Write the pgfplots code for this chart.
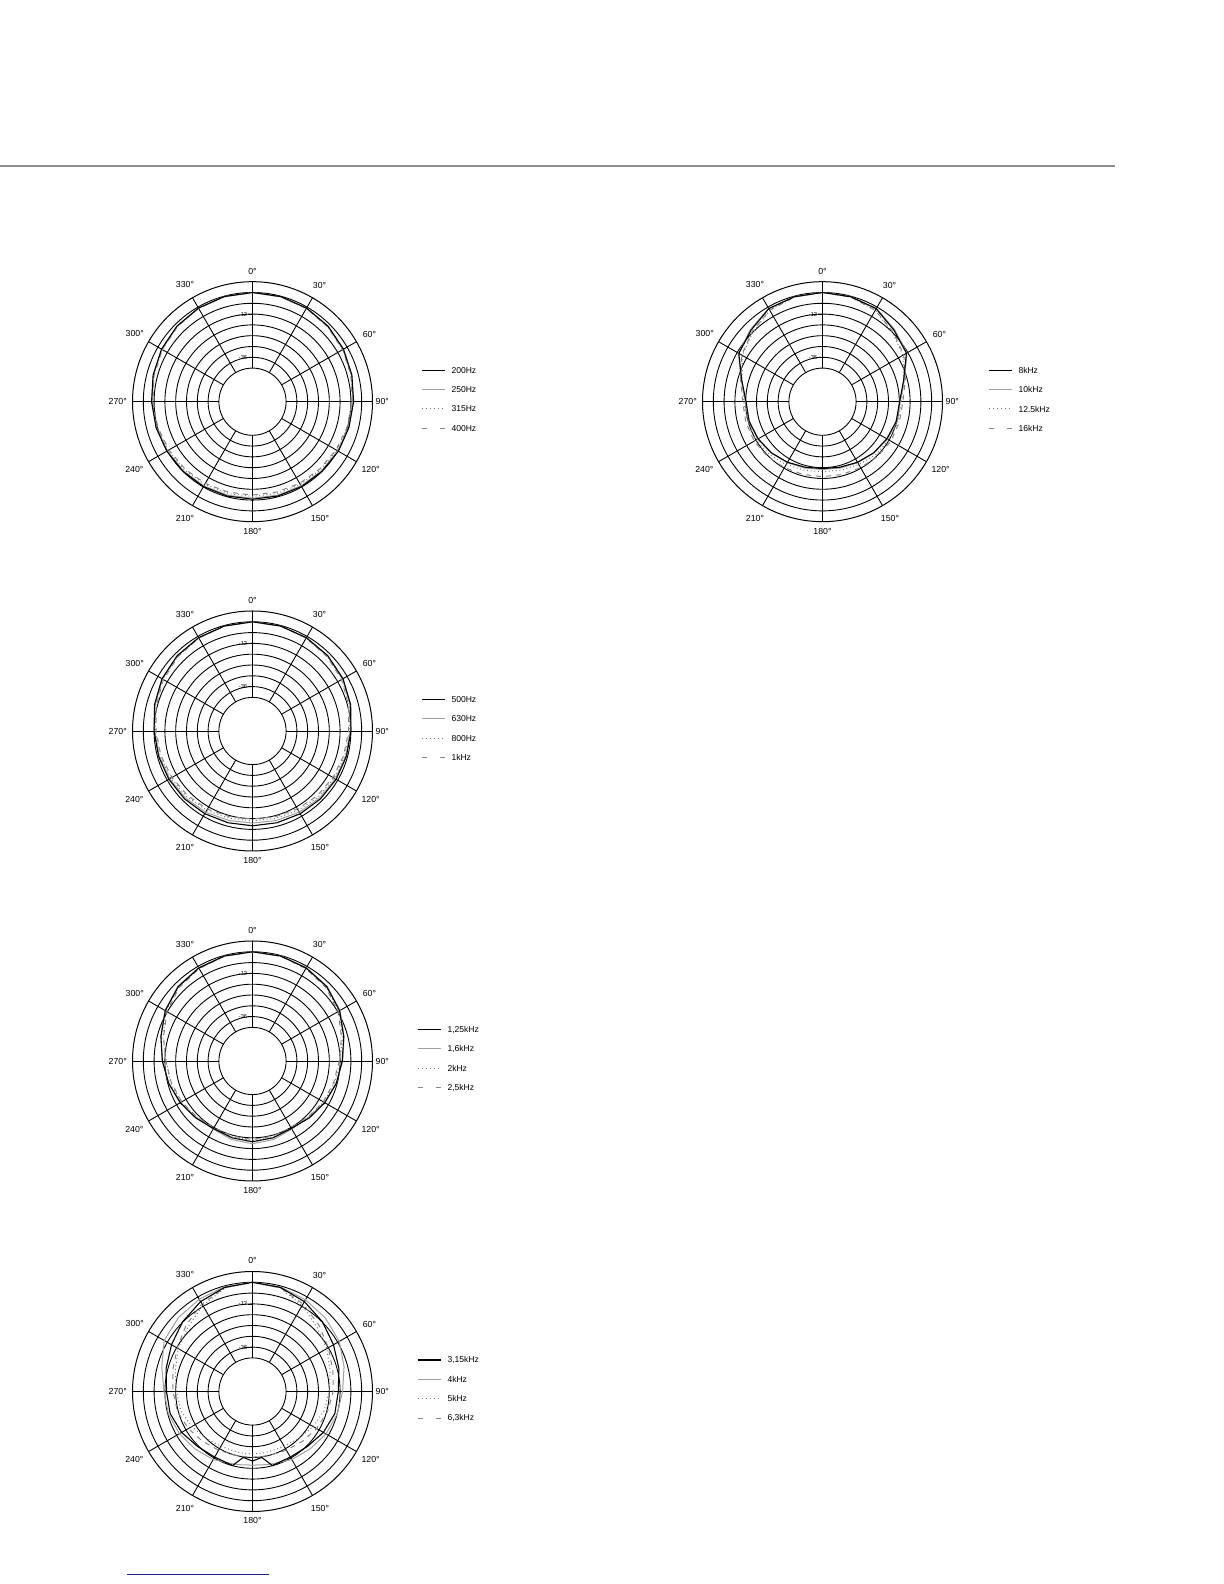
\documentclass[border=0pt]{standalone}
\usepackage{fontspec}
\setmainfont{Liberation Sans}
\usepackage{pgfplots}
\pgfplotsset{compat=1.18}
\usepackage{pgfplotstable}
\usepgfplotslibrary{polar}

\definecolor{rulegray}{HTML}{8E8E8E}
\definecolor{linkblue}{HTML}{1F1F8F}
\definecolor{curvegray}{HTML}{A0A0A0}
\definecolor{dotgray}{HTML}{7A7A7A}
\definecolor{dashgray}{HTML}{858585}

% polar response, dB re 0 deg; angle in degrees clockwise from the front
\pgfplotstableread{
a    s1    s2    s3    s4
0    0     0     0     0
15   -0.2  -0.3  -0.3  -0.3
30   -0.6  -0.8  -0.8  -0.9
45   -1.3  -1.5  -1.6  -1.8
60   -2.3  -2.5  -2.7  -2.9
75   -3.5  -3.7  -3.9  -4.1
90   -4.5  -4.7  -5.0  -5.3
105  -5.2  -5.5  -5.9  -6.3
120  -5.6  -6.0  -6.6  -7.1
135  -6.0  -6.4  -7.2  -7.8
150  -6.2  -6.7  -7.6  -8.3
165  -6.4  -6.9  -7.9  -8.7
180  -6.5  -7.0  -8.0  -8.8
195  -6.4  -6.9  -7.9  -8.6
210  -6.2  -6.6  -7.6  -8.2
225  -6.0  -6.3  -7.1  -7.7
240  -5.7  -6.0  -6.5  -7.0
255  -5.2  -5.4  -5.8  -6.2
270  -4.6  -4.8  -5.0  -5.3
285  -3.5  -3.7  -3.9  -4.1
300  -2.3  -2.5  -2.7  -2.8
315  -1.3  -1.5  -1.6  -1.7
330  -0.6  -0.7  -0.8  -0.8
345  -0.2  -0.2  -0.3  -0.3
360  0     0     0     0
}\tabA

\pgfplotstableread{
a    s1    s2    s3    s4
0    0     0     0     0
15   -0.3  -0.3  -0.3  -0.4
30   -0.8  -0.9  -1.0  -1.1
45   -1.5  -1.7  -2.0  -2.2
60   -2.6  -2.9  -3.2  -3.5
75   -4.2  -4.6  -5.0  -5.4
90   -6.0  -6.3  -6.8  -7.3
105  -6.6  -7.0  -7.6  -8.2
120  -7.0  -7.5  -8.3  -9.0
135  -7.3  -8.0  -9.0  -9.8
150  -7.6  -8.6  -9.8  -10.7
165  -7.9  -9.2  -10.5 -11.4
180  -8.0  -9.5  -10.8 -11.7
195  -7.9  -9.2  -10.5 -11.4
210  -7.6  -8.6  -9.8  -10.6
225  -7.3  -8.0  -9.0  -9.8
240  -7.0  -7.5  -8.3  -9.0
255  -6.6  -7.0  -7.5  -8.0
270  -6.0  -6.3  -6.7  -7.1
285  -4.3  -4.6  -5.0  -5.3
300  -2.6  -2.9  -3.2  -3.5
315  -1.5  -1.7  -2.0  -2.2
330  -0.8  -0.9  -1.0  -1.1
345  -0.3  -0.3  -0.3  -0.4
360  0     0     0     0
}\tabB

\pgfplotstableread{
a    s1    s2    s3    s4
0    0     0     0     0
15   -0.3  -0.2  -0.4  -0.4
30   -1.0  -0.8  -1.2  -1.4
45   -2.3  -2.0  -2.6  -3.0
60   -4.8  -4.5  -5.2  -5.8
75   -8.2  -8.0  -9.0  -9.5
90   -10.8 -10.5 -12.0 -12.5
105  -12.5 -12.5 -13.5 -14.0
120  -14.3 -14.5 -15.0 -15.3
135  -16.0 -16.5 -16.5 -16.8
150  -17.4 -17.0 -17.5 -17.8
165  -16.5 -15.5 -17.0 -17.5
180  -15.8 -14.7 -16.5 -17.0
195  -16.5 -15.5 -17.0 -17.5
210  -17.3 -17.0 -17.5 -17.8
225  -16.0 -16.5 -16.5 -16.8
240  -14.3 -14.5 -15.0 -15.3
255  -12.5 -12.5 -13.5 -14.0
270  -10.6 -10.5 -12.8 -12.5
285  -8.0  -8.0  -9.2  -9.5
300  -4.7  -4.5  -5.2  -5.8
315  -2.3  -2.0  -2.6  -3.0
330  -1.0  -0.8  -1.2  -1.4
345  -0.3  -0.2  -0.4  -0.4
360  0     0     0     0
}\tabC

\pgfplotstableread{
a    s1    s2    s3    s4
0    0     0     0     0
15   -0.8  -0.5  -1.2  -1.0
30   -3.0  -1.8  -5.5  -4.5
45   -5.8  -3.2  -10.0 -8.5
60   -8.7  -5.0  -13.0 -12.0
75   -11.0 -8.0  -16.0 -14.5
90   -13.0 -10.6 -18.0 -15.8
105  -13.3 -12.0 -19.5 -17.5
120  -15.2 -13.5 -21.7 -19.5
135  -17.5 -15.5 -24.0 -21.5
150  -18.6 -17.0 -25.5 -23.0
165  -18.1 -19.0 -26.0 -24.0
172  -23.7 -19.5 -26.0 -24.2
180  -22.0 -19.8 -26.0 -24.2
188  -23.7 -19.5 -26.0 -24.2
195  -18.1 -19.0 -26.0 -24.0
210  -18.6 -17.0 -25.5 -23.0
225  -17.5 -15.5 -24.0 -21.5
240  -15.2 -13.8 -21.7 -19.5
255  -13.3 -12.3 -19.5 -17.5
270  -12.9 -11.5 -18.4 -16.5
285  -11.0 -8.5  -16.2 -14.8
300  -8.7  -4.0  -13.0 -12.4
315  -5.8  -2.5  -10.0 -8.5
330  -3.0  -1.5  -5.5  -4.5
345  -0.8  -0.4  -1.2  -1.0
360  0     0     0     0
}\tabD

\pgfplotstableread{
a    s1    s2    s3    s4
0    0     0     0     0
15   -0.3  -0.2  -0.5  -0.5
30   -1.0  -0.8  -2.0  -2.0
45   -4.5  -4.0  -6.0  -5.5
60   -6.8  -6.5  -9.0  -8.5
75   -14.0 -13.5 -14.0 -13.0
90   -17.8 -17.5 -16.7 -16.0
105  -18.3 -18.0 -17.3 -16.5
120  -19.4 -19.0 -18.0 -16.8
135  -20.5 -20.3 -19.0 -17.5
150  -21.8 -21.5 -20.3 -18.4
165  -23.0 -22.5 -21.3 -18.8
180  -23.5 -23.0 -21.7 -19.0
195  -23.0 -22.5 -21.3 -18.8
210  -21.8 -21.5 -20.3 -18.4
225  -20.5 -20.3 -19.0 -17.5
240  -19.4 -19.0 -18.0 -16.8
255  -18.5 -18.2 -17.5 -16.6
270  -18.2 -17.8 -17.0 -16.3
285  -14.2 -13.8 -14.5 -13.5
300  -7.0  -6.8  -9.2  -8.8
315  -4.5  -4.0  -6.0  -5.5
330  -1.0  -0.8  -2.0  -2.0
345  -0.3  -0.2  -0.5  -0.5
360  0     0     0     0
}\tabE

\tikzset{
  gridln/.style={black, line width=0.45bp},
  c1/.style={black, line width=0.55bp},
  c2/.style={curvegray, line width=0.5bp},
  c3/.style={dotgray, line width=0.5bp, dash pattern=on 0.5bp off 1.3bp},
  c4/.style={dashgray, line width=0.5bp, dash pattern=on 2.5bp off 2.5bp},
  deg/.style={font=\fontsize{4.4}{5}\selectfont, inner sep=0pt},
  leg/.style={font=\fontsize{4.3}{5}\selectfont, inner sep=0pt, anchor=west},
  lvl/.style={anchor=east, inner sep=0.3bp, font=\fontsize{2.9}{3}\selectfont},
}

% radius = level + 60.67 dB, so the -42 dB ring leaves an empty disc in the middle
\pgfplotsset{
  mic/.style={
    scale only axis, width=120bp, height=120bp, anchor=center,
    xmin=0, xmax=360, ymin=0, ymax=66.67,
    xtick=\empty, ytick={18.67,24.67,30.67,36.67,42.67,48.67,54.67,60.67},
    yticklabels={},
    major tick length=0pt,
    ymajorgrids, major grid style={black, line width=0.45bp},
    axis line style={black, line width=0.5bp},
    y axis line style={draw=none},
    x filter/.expression={mod(450-x,360)},
    y filter/.expression={y+60.67},
  },
}

% spokes, angle labels and the two level marks round one diagram
\newcommand\micframe[2]{%
  \begin{scope}[shift={(#1,#2)}]
    \foreach \a in {0,30,...,330} \draw[gridln] (\a:16.8bp) -- (\a:60bp);
    \foreach \a/\r in {0/65.3,30/67,60/67.5,90/64.9,120/68.2,150/67.5,180/64.7,
                       210/67.5,240/68.2,270/67.4,300/68,330/67.5}
      \node[deg] at ({90-\a}:\r bp) {\a°};
    \draw[black, line width=0.3bp] (0,43.8bp) -- (-2.2bp,43.8bp) node[lvl] {-12};
    \draw[black, line width=0.3bp] (0,22.2bp) -- (-2.2bp,22.2bp) node[lvl] {-36};
  \end{scope}}

\newcommand\miclegend[7]{%
  \begin{scope}[shift={(#1,#2)}]
    \draw[c1] (#3bp,15.75bp) -- ++(11.5bp,0);
    \draw[c2] (#3bp,6bp) -- ++(11.5bp,0);
    \draw[dotgray, line width=0.5bp, dash pattern=on 0.5bp off 1.5bp] (#3bp,-3.65bp) -- ++(11.5bp,0);
    \draw[dashgray, line width=0.5bp, dash pattern=on 2.5bp off 6.5bp] (#3bp,-13.4bp) -- ++(11.5bp,0);
    \node[leg] at ({#3bp+14.8bp},15.75bp) {#4};
    \node[leg] at ({#3bp+14.8bp},6bp) {#5};
    \node[leg] at ({#3bp+14.8bp},-3.65bp) {#6};
    \node[leg] at ({#3bp+14.8bp},-13.4bp) {#7};
  \end{scope}}

\newcommand\micplots[1]{%
  \addplot[c4] table[x=a, y=s4] {#1};
  \addplot[c3] table[x=a, y=s3] {#1};
  \addplot[c2] table[x=a, y=s2] {#1};
  \addplot[c1] table[x=a, y=s1] {#1};
}

\begin{document}
\begin{tikzpicture}
  \path[use as bounding box] (0,0) rectangle (612bp,792bp);
  \draw[rulegray, line width=1bp] (0,708.75bp) -- (557.5bp,708.75bp);
  \draw[linkblue, line width=0.5bp] (63.5bp,4.5bp) -- (134.5bp,4.5bp);

  % 200 Hz ... 400 Hz
  \micframe{126.25bp}{591.15bp}
  \begin{polaraxis}[mic, at={(126.25bp,591.15bp)}]
    \micplots{\tabA}
  \end{polaraxis}
  \miclegend{126.25bp}{591.15bp}{84.5}{200Hz}{250Hz}{315Hz}{400Hz}

  % 500 Hz ... 1 kHz
  \micframe{126.25bp}{426.5bp}
  \begin{polaraxis}[mic, at={(126.25bp,426.5bp)}]
    \micplots{\tabB}
  \end{polaraxis}
  \miclegend{126.25bp}{426.5bp}{84.5}{500Hz}{630Hz}{800Hz}{1kHz}

  % 1.25 kHz ... 2.5 kHz
  \micframe{126.25bp}{261.5bp}
  \begin{polaraxis}[mic, at={(126.25bp,261.5bp)}]
    \micplots{\tabC}
  \end{polaraxis}
  \miclegend{126.25bp}{261.5bp}{82.5}{1,25kHz}{1,6kHz}{2kHz}{2,5kHz}

  % 3.15 kHz ... 6.3 kHz
  \micframe{126.25bp}{96.25bp}
  \begin{polaraxis}[mic, at={(126.25bp,96.25bp)}]
    \micplots{\tabD}
  \end{polaraxis}
  \miclegend{126.25bp}{96.25bp}{82.5}{3,15kHz}{4kHz}{5kHz}{6,3kHz}

  % 8 kHz ... 16 kHz
  \micframe{411.25bp}{591.15bp}
  \begin{polaraxis}[mic, at={(411.25bp,591.15bp)}]
    \micplots{\tabE}
  \end{polaraxis}
  \miclegend{411.25bp}{591.15bp}{83}{8kHz}{10kHz}{12.5kHz}{16kHz}
\end{tikzpicture}
\end{document}
